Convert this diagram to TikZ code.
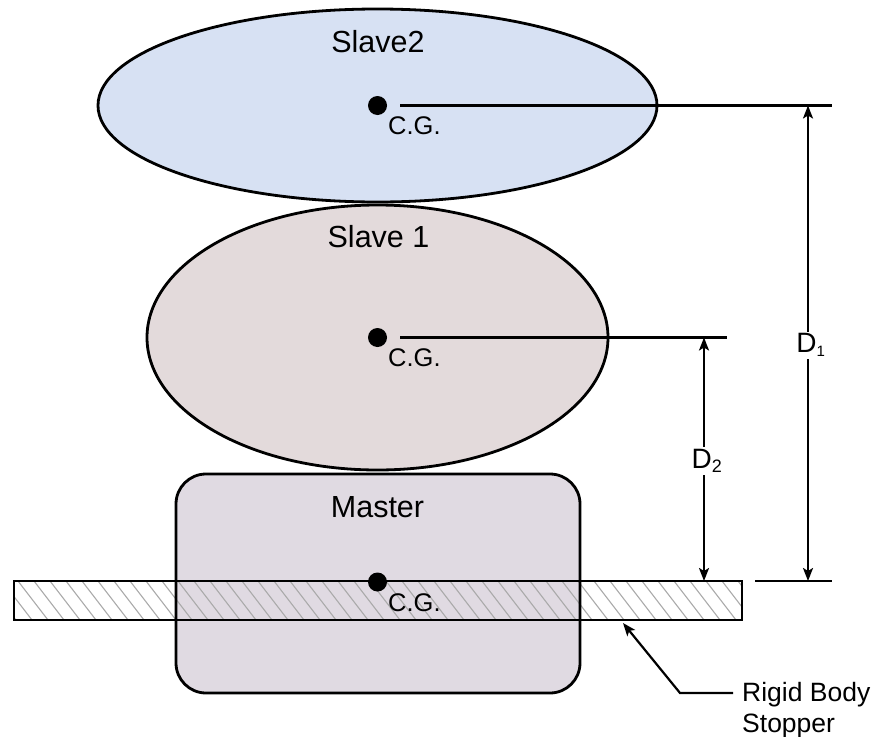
\documentclass[tikz,border=0pt]{standalone}
\usepackage{fontspec}
\setmainfont{Liberation Sans}
\usetikzlibrary{arrows.meta}
\definecolor{slavetwo}{RGB}{215,225,243}
\definecolor{slaveone}{RGB}{227,218,219}
\definecolor{masterc}{RGB}{224,218,226}
\definecolor{hatchc}{RGB}{170,170,170}
\tikzset{
  body/.style={draw=black, line width=2.8pt},
  cgdot/.style={circle, fill=black, minimum size=19pt, inner sep=0pt},
  cglabel/.style={anchor=base west, inner sep=0pt, font=\fontsize{25.5}{25.5}\selectfont},
  title/.style={anchor=base, inner sep=0pt, font=\fontsize{30.5}{30.5}\selectfont},
  refline/.style={line width=2.3pt},
  dimarrow/.style={line width=2.2pt, {Stealth[length=13pt,width=10pt,inset=3pt]}-{Stealth[length=13pt,width=10pt,inset=3pt]}},
  dimlabel/.style={fill=white, inner sep=2pt, font=\fontsize{28}{28}\selectfont},
  leader/.style={line width=2.2pt, {Stealth[length=13pt,width=10pt,inset=3pt]}-},
  notelabel/.style={anchor=base west, inner sep=0pt, align=left, font=\fontsize{26.5}{31}\selectfont}
}
\begin{document}
\begin{tikzpicture}[x=1pt,y=-1pt]
\useasboundingbox (0,0) rectangle (875,736);
% bodies
\draw[body, fill=slavetwo] (377.5,105.5) ellipse [x radius=279.5, y radius=96.5];
\draw[body, fill=slaveone] (377.5,337.5) ellipse [x radius=230.5, y radius=132.5];
\fill[masterc, rounded corners=30pt] (176,474) rectangle (580,693);
% hatched stopper
\begin{scope}
  \clip (14,581) rectangle (742,620);
  \foreach \x in {-30,-14,...,760} {
    \draw[hatchc, line width=1.1pt] (\x,581) -- ++(30,39);
  }
\end{scope}
\draw[line width=2.2pt] (14,581) rectangle (742,620);
\draw[body, rounded corners=30pt] (176,474) rectangle (580,693);
% labels
\node[title] (s2) at (378,52) {Slave2};
\node[title] (s1) at (378.5,247) {Slave 1};
\node[title] (m) at (377.5,517) {Master};
% CG dots
\node[cgdot] (cg2) at (377.5,105.5) {};
\node[cgdot] (cg1) at (377.5,337.5) {};
\node[cgdot] (cg0) at (377.5,582) {};
\node[cglabel] (cgl2) at (388,134) {C.G.};
\node[cglabel] (cgl1) at (388,366) {C.G.};
\node[cglabel] (cgl0) at (388,611) {C.G.};
% reference lines
\coordinate (r2) at (832,105.5);
\coordinate (r1) at (727,337.5);
\coordinate (b0a) at (755,581);
\coordinate (b0b) at (832,581);
\draw[refline] (400,105.5) -- (r2);
\draw[refline] (400,337.5) -- (r1);
\draw[refline] (b0a) -- (b0b);
% dimensions
\coordinate (d1t) at (808,105.5);
\coordinate (d1b) at (808,581);
\coordinate (d2t) at (704,337.5);
\coordinate (d2b) at (704,581);
\draw[dimarrow] (d1t) -- (d1b);
\draw[dimarrow] (d2t) -- (d2b);
\node[dimlabel] (D1) at (811,345) {D\textsubscript{\fontsize{15}{15}\selectfont 1}};
\node[dimlabel] (D2) at (707,461) {D\textsubscript{\fontsize{18}{18}\selectfont 2}};
% leader
\node[notelabel] (note) at (742,732) {Rigid Body\\Stopper};
\coordinate (tip) at (623,623);
\coordinate (bend) at (680,693);
\coordinate (lend) at (733,693);
\draw[leader] (tip) -- (bend) -- (lend);
\end{tikzpicture}
\end{document}
